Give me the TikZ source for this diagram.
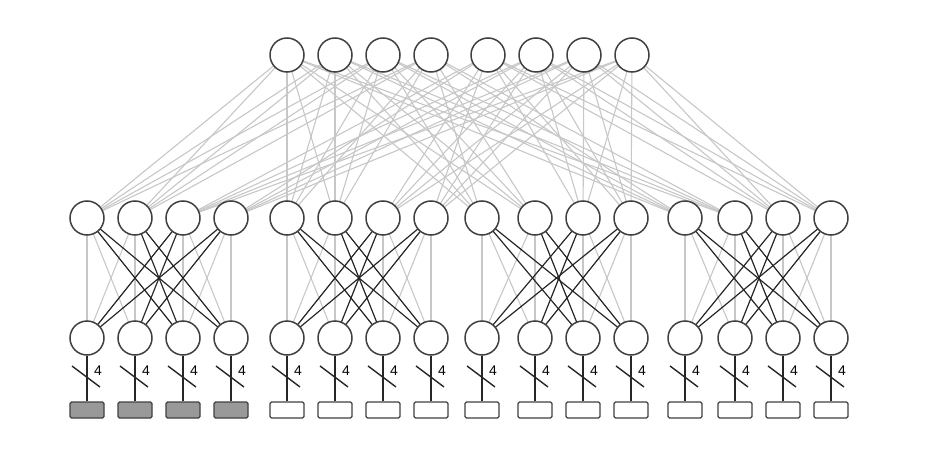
\documentclass[tikz,border=0pt]{standalone}
\usepackage{fontspec}
\setmainfont{Liberation Sans}
\begin{document}
\begin{tikzpicture}[x=1pt,y=-1pt,
  sw/.style={circle,draw=black!75,line width=1.5pt,minimum size=34pt,inner sep=0pt,fill=white},
  host/.style={rectangle,rounded corners=1.5pt,draw=black!75,line width=1.3pt,minimum width=34pt,minimum height=16pt,inner sep=0pt},
  light/.style={draw=black!22,line width=1.1pt},
  dark/.style={draw=black!85,line width=1.2pt}]
\useasboundingbox (0,0) rectangle (941,473);
\def\tx{{287,335,383,431,488,536,584,632}}
\def\mx{{87,135,183,231,287,335,383,431,482,535,583,631,685,735,783,831}}
\foreach \k in {0,...,7}{\pgfmathsetmacro\x{\tx[\k]}\coordinate (tc\k) at (\x,55);}
\foreach \k in {0,...,15}{\pgfmathsetmacro\x{\mx[\k]}\coordinate (mc\k) at (\x,218);\coordinate (bc\k) at (\x,338);}
\foreach \p in {0,...,3}{
  \foreach \i in {0,...,3}{
    \pgfmathtruncatemacro\m{4*\p+\i}
    \pgfmathtruncatemacro\s{\i<2 ? 0 : 4}
    \foreach \t in {0,...,3}{
      \pgfmathtruncatemacro\tt{\s+\t}
      \draw[light] (tc\tt) -- (mc\m);
    }}}
\foreach \p in {0,...,3}{
  \foreach \i in {0,...,3}{
    \foreach \j in {0,...,3}{
      \pgfmathtruncatemacro\a{4*\p+\i}
      \pgfmathtruncatemacro\b{4*\p+\j}
      \pgfmathtruncatemacro\same{(\i<2)==(\j<2)}
      \ifnum\same=1 \draw[light] (mc\a) -- (bc\b); \fi
    }}}
\foreach \p in {0,...,3}{
  \foreach \i in {0,...,3}{
    \foreach \j in {0,...,3}{
      \pgfmathtruncatemacro\a{4*\p+\i}
      \pgfmathtruncatemacro\b{4*\p+\j}
      \pgfmathtruncatemacro\same{(\i<2)==(\j<2)}
      \ifnum\same=0 \draw[dark] (mc\a) -- (bc\b); \fi
    }}}
\foreach \k in {0,...,7}{\node[sw] (t\k) at (tc\k) {};}
\foreach \k in {0,...,15}{
  \node[sw] (m\k) at (mc\k) {};
  \node[sw] (b\k) at (bc\k) {};
  \pgfmathsetmacro\x{\mx[\k]}
  \ifnum\k<4 \node[host,fill=black!40] (h\k) at (\x,410) {};
  \else \node[host,fill=white] (h\k) at (\x,410) {}; \fi
  \draw[dark,line width=1.4pt] (b\k) -- (h\k);
  \draw[dark,line width=1.4pt] (\x-15,366) -- (\x+13,387);
  \node[font=\fontsize{14}{15}\selectfont] at (\x+11,371) {4};
}
\end{tikzpicture}
\end{document}
